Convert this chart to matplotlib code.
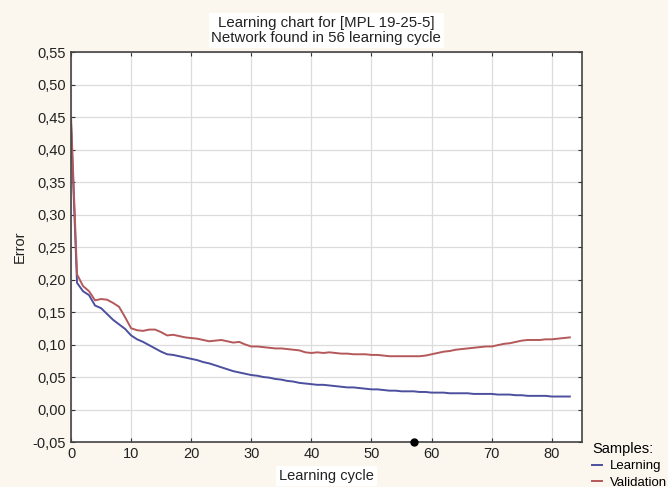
import matplotlib.pyplot as plt

# Learning chart values.
cycles = list(range(84))
learning = [0.440, 0.195, 0.182, 0.176, 0.160, 0.156, 0.147, 0.138, 0.131, 0.124,
            0.114, 0.108, 0.104, 0.099, 0.094, 0.089, 0.085, 0.084, 0.082, 0.080,
            0.078, 0.076, 0.073, 0.071, 0.068, 0.065, 0.062, 0.059, 0.057, 0.055,
            0.053, 0.052, 0.050, 0.049, 0.047, 0.046, 0.044, 0.043, 0.041, 0.040,
            0.039, 0.038, 0.038, 0.037, 0.036, 0.035, 0.034, 0.034, 0.033, 0.032,
            0.031, 0.031, 0.030, 0.029, 0.029, 0.028, 0.028, 0.028, 0.027, 0.027,
            0.026, 0.026, 0.026, 0.025, 0.025, 0.025, 0.025, 0.024, 0.024, 0.024,
            0.024, 0.023, 0.023, 0.023, 0.022, 0.022, 0.021, 0.021, 0.021, 0.021,
            0.020, 0.020, 0.020, 0.020]
validation = [0.450, 0.208, 0.190, 0.182, 0.168, 0.170, 0.169, 0.164, 0.158, 0.142,
              0.125, 0.122, 0.121, 0.123, 0.123, 0.119, 0.114, 0.115, 0.113, 0.111,
              0.110, 0.109, 0.107, 0.105, 0.106, 0.107, 0.105, 0.103, 0.104, 0.100,
              0.097, 0.097, 0.096, 0.095, 0.094, 0.094, 0.093, 0.092, 0.091, 0.088,
              0.087, 0.088, 0.087, 0.088, 0.087, 0.086, 0.086, 0.085, 0.085, 0.085,
              0.084, 0.084, 0.083, 0.082, 0.082, 0.082, 0.082, 0.082, 0.082, 0.083,
              0.085, 0.087, 0.089, 0.090, 0.092, 0.093, 0.094, 0.095, 0.096, 0.097,
              0.097, 0.099, 0.101, 0.102, 0.104, 0.106, 0.107, 0.107, 0.107, 0.108,
              0.108, 0.109, 0.110, 0.111]
best_cycle = 57
x_ticks = [0, 10, 20, 30, 40, 50, 60, 70, 80]
y_ticks = [-0.05, 0.0, 0.05, 0.10, 0.15, 0.20, 0.25, 0.30, 0.35, 0.40, 0.45, 0.50, 0.55]

plt.rcParams['font.family'] = ['Liberation Sans', 'DejaVu Sans']

fig = plt.figure(figsize=(6.68, 4.87), dpi=100, facecolor='#fcf7ee')
ax = fig.add_axes([0.1063, 0.0924, 0.7647, 0.8006])
ax.set_facecolor('white')

ax.plot(cycles, learning, color='#4b4f9e', linewidth=1.4, label='Learning')
ax.plot(cycles, validation, color='#b4585a', linewidth=1.4, label='Validation')
ax.plot([best_cycle], [-0.05], marker='o', color='black', markersize=5,
        clip_on=False, zorder=5)

ax.set_xlim(0, 85)
ax.set_ylim(-0.05, 0.55)
ax.set_xticks(x_ticks)
ax.set_yticks(y_ticks)
ax.set_yticklabels([('%.2f' % v).replace('.', ',') for v in y_ticks])
ax.grid(True, color='#dcdcdc', linewidth=0.9)
ax.set_axisbelow(True)
ax.tick_params(axis='both', labelsize=10.5, direction='in', length=3,
               top=True, right=True, colors='#333333', labelcolor='#222222')
for s in ax.spines.values():
    s.set_color('#444444')
    s.set_linewidth(1.2)

ax.set_title('Learning chart for [MPL 19-25-5]\nNetwork found in 56 learning cycle',
             fontsize=10.8, color='#222222', linespacing=1.1, pad=7,
             bbox=dict(facecolor='white', edgecolor='none', pad=2))
ax.set_xlabel('Learning cycle', fontsize=10.5, color='#222222', labelpad=6,
              bbox=dict(facecolor='white', edgecolor='none', pad=2))
ax.set_ylabel('Error', fontsize=10.5, color='#222222', labelpad=4)

ax.legend(title='Samples:', loc='upper left', bbox_to_anchor=(1.005, 0.02),
          frameon=False, fontsize=9.5, title_fontsize=10.5, handlelength=0.7,
          handletextpad=0.6, borderpad=0.1, labelspacing=0.3,
          alignment='left')

fig.savefig('out.png', dpi=100, facecolor=fig.get_facecolor())
